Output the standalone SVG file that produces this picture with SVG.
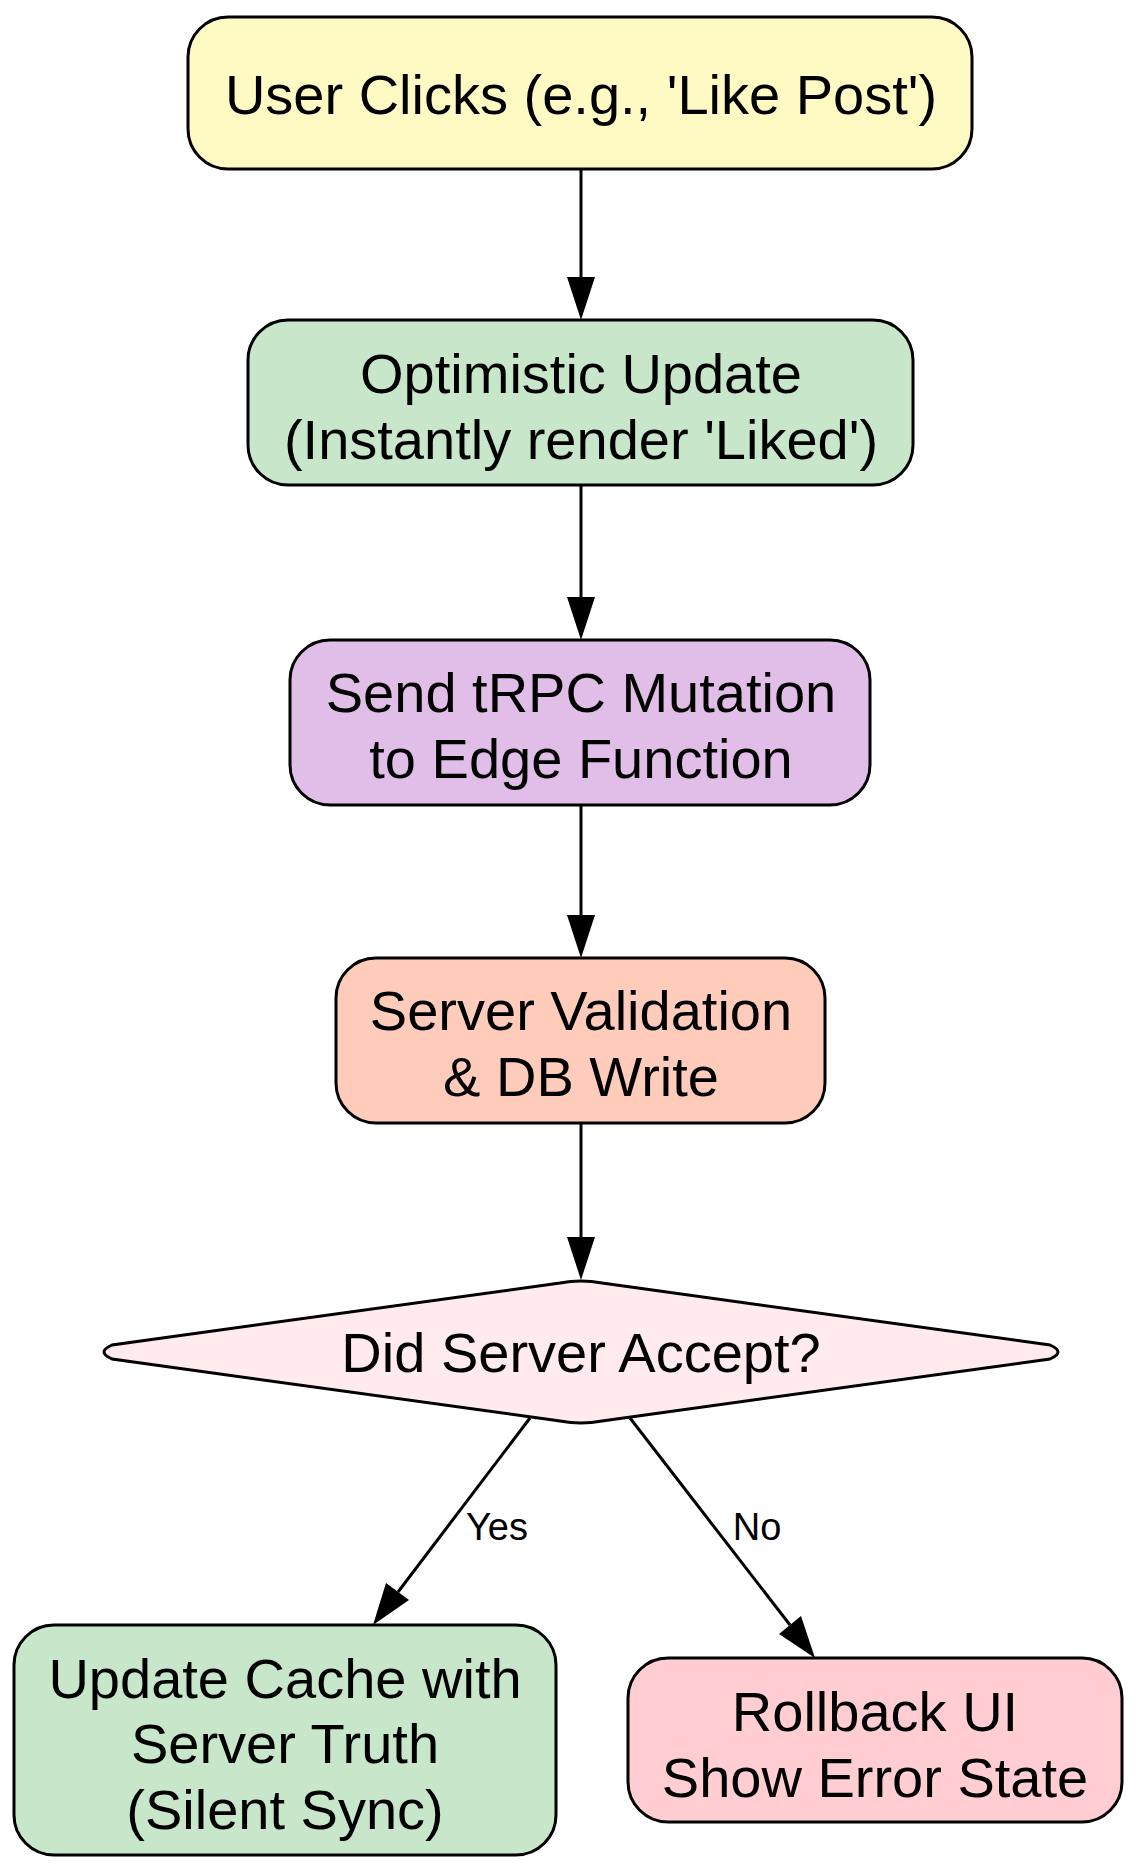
<svg xmlns="http://www.w3.org/2000/svg" width="1143" height="1874" viewBox="0 0 1143 1874">
<style>
.n{stroke:#000;stroke-width:3}
text{font-family:"Liberation Sans",Arial,sans-serif;font-size:56px;text-anchor:middle;fill:#000}
.l{font-size:38px}
.e{stroke:#000;stroke-width:3;fill:none}
</style>
<rect width="1143" height="1874" fill="#fff"/>
<g id="connectors">
<path class="e" d="M581,169 V278"/><path d="M567,277 L581,320 L595,277 z"/>
<path class="e" d="M581,485 V597"/><path d="M567,597 L581,640 L595,597 z"/>
<path class="e" d="M581,805 V915"/><path d="M567,915 L581,958 L595,915 z"/>
<path class="e" d="M581,1123 V1237"/><path d="M567,1237 L581,1280 L595,1237 z"/>
<path class="e" d="M530,1418 L398,1592"/><path d="M386,1583 L373,1625 L409,1600 z"/>
<path class="e" d="M630,1418 L790,1625"/><path d="M779,1634 L815,1658 L801,1616 z"/>
<text class="l" x="497" y="1540">Yes</text>
<text class="l" x="757" y="1540">No</text>
</g>
<g id="n1"><rect class="n" x="188" y="17" width="784" height="152" rx="40" fill="#fff9c4"/><text x="581" y="114">User Clicks (e.g., 'Like Post')</text></g>
<g id="n2"><rect class="n" x="248" y="320" width="665" height="165" rx="40" fill="#c8e6c9"/><text x="581" y="393">Optimistic Update</text><text x="581" y="459">(Instantly render 'Liked')</text></g>
<g id="n3"><rect class="n" x="290" y="640" width="580" height="165" rx="40" fill="#e1bee7"/><text x="581" y="712">Send tRPC Mutation</text><text x="581" y="778">to Edge Function</text></g>
<g id="n4"><rect class="n" x="336" y="958" width="489" height="165" rx="40" fill="#ffccbc"/><text x="581" y="1030">Server Validation</text><text x="581" y="1096">&amp; DB Write</text></g>
<g id="d"><path class="n" d="M560,1283 Q581,1279 602,1283 L1050,1345 Q1066,1352 1050,1359 L602,1421 Q581,1425 560,1421 L112,1359 Q96,1352 112,1345 Z" fill="#ffebee"/><text x="581" y="1372">Did Server Accept?</text></g>
<g id="y"><rect class="n" x="14" y="1625" width="542" height="230" rx="40" fill="#c8e6c9"/><text x="285" y="1698">Update Cache with</text><text x="285" y="1763">Server Truth</text><text x="285" y="1829">(Silent Sync)</text></g>
<g id="no"><rect class="n" x="628" y="1658" width="494" height="164" rx="40" fill="#ffcdd2"/><text x="875" y="1731">Rollback UI</text><text x="875" y="1797">Show Error State</text></g>
</svg>
